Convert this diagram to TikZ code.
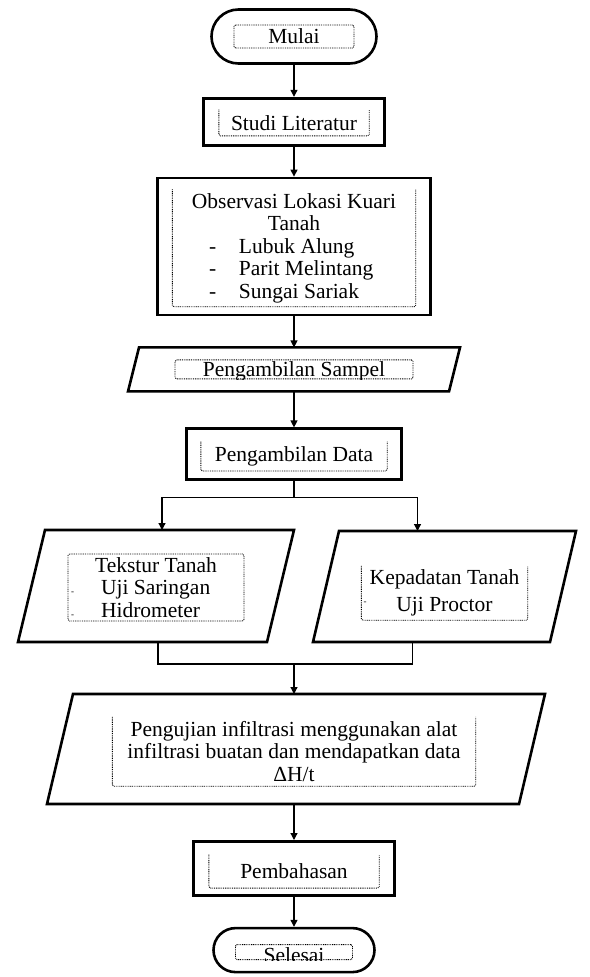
\documentclass[tikz,border=0pt]{standalone}
\usepackage{fontspec}
\setmainfont{Liberation Serif}
\usetikzlibrary{arrows.meta,positioning,shapes.misc}

\newcommand{\dashitem}[2][]{\makebox[170pt][l]{\makebox[30pt][l]{#1-}#2}}

\begin{document}
\begin{tikzpicture}[
  x=1pt, y=1pt,
  font=\fontsize{21.5}{22.5}\selectfont,
  node distance=30pt,
  term/.style={rounded rectangle, draw, line width=2.6pt, inner sep=0pt},
  proc/.style={rectangle, draw, line width=2.8pt, inner sep=0pt},
  io/.style={rectangle, inner sep=0pt, outer sep=0pt},
  outline/.style={line width=2.6pt, line join=miter},
  inbox/.style={rectangle, inner sep=0pt, align=center},
  dots/.style={line width=0.9pt, dash pattern=on 0.9pt off 0.9pt, rounded corners=1.5pt},
  dotbox/.style={inbox, draw, dots},
  arr/.style={-{Triangle[length=7pt,width=7pt]}, line width=1.2pt},
  conn/.style={line width=1.2pt}
]
\useasboundingbox (0,0) rectangle (589,-977);

% outer shapes
\node[term, minimum width=165, minimum height=54] (mulai) at (294,-36.5) {};
\node[proc, minimum width=181, minimum height=47, below=32pt of mulai] (studi) {};
\node[proc, minimum width=273, minimum height=137, below=30pt of studi] (obs) {};
\node[io, minimum width=332, minimum height=44, below=31pt of obs] (sampel) {};
\node[proc, minimum width=215, minimum height=51, below=36pt of sampel] (data) {};
\node[io, minimum width=276, minimum height=112] (tekstur) at (156,-586) {};
\node[io, minimum width=263, minimum height=111] (padat) at (444.5,-586.5) {};
\node[io, minimum width=498, minimum height=110] (uji) at (296,-749) {};
\node[proc, minimum width=201, minimum height=54, below=36pt of uji, xshift=-2] (bahas) {};
\node[term, minimum width=161, minimum height=44, below=30pt of bahas] (selesai) {};

% slanted sides of the data shapes
\foreach \n/\s in {sampel/11,tekstur/27,padat/26,uji/26}
  \draw[outline] ([xshift=\s]\n.north west) -- (\n.north east)
    -- ([xshift=-\s]\n.south east) -- (\n.south west) -- cycle;

% dotted text frames
\node[dotbox, minimum width=120, minimum height=23] (mulaiT) at (mulai.center) {Mulai};
\node[inbox, minimum width=150, minimum height=26, yshift=-1] (studiT) at (studi.center) {Studi Literatur};
\node[inbox, minimum width=243, minimum height=117, yshift=-1.5] (obsT) at (obs.center)
  {Observasi Lokasi Kuari\\Tanah\\\dashitem{Lubuk Alung}\\\dashitem{Parit Melintang}\\\dashitem{Sungai Sariak}};
\node[dotbox, minimum width=238, minimum height=19] (sampelT) at (sampel.center) {};
\begin{scope}
  \clip (sampelT.south west) rectangle (sampelT.north east);
  \node[anchor=base, inner sep=0pt] (sampelL) at ([yshift=2.5]sampelT.south) {Pengambilan Sampel};
\end{scope}
\node[inbox, minimum width=186, minimum height=29, yshift=-2] (dataT) at (data.center) {Pengambilan Data};
\node[dotbox, minimum width=176, minimum height=67, yshift=-1.5] (teksturT) at (tekstur.center)
  {Tekstur Tanah\\\dashitem[\small]{Uji Saringan}\\\dashitem[\small]{Hidrometer}};
\node[inbox, minimum width=166, minimum height=54, yshift=-6.5] (padatT) at (padat.center)
  {Kepadatan Tanah\\[4.5pt]Uji Proctor};
\node[font=\small, inner sep=0pt, anchor=west] (padatD) at ([xshift=2,yshift=-10]padatT.west) {-};
\node[inbox, minimum width=363, minimum height=69, yshift=-2.5] (ujiT) at ([xshift=-2]uji.center)
  {Pengujian infiltrasi menggunakan alat\\infiltrasi buatan dan mendapatkan data\\ΔH/t};
\node[inbox, minimum width=170, minimum height=33, yshift=-3] (bahasT) at (bahas.center) {Pembahasan};
\node[dotbox, minimum width=117, minimum height=15, yshift=-2] (selesaiT) at (selesai.center) {};
\begin{scope}
  \clip (selesaiT.south west) rectangle (selesaiT.north east);
  \node[anchor=base, inner sep=0pt] (selesaiL) at ([yshift=-2]selesaiT.south) {Selesai};
\end{scope}

% frames open at the top
\foreach \n in {studiT,obsT,dataT,padatT,ujiT,bahasT}
  \draw[dots] (\n.north west) -- (\n.south west) -- (\n.south east) -- (\n.north east);

% connectors
\draw[arr] (mulai) -- (studi);
\draw[arr] (studi) -- (obs);
\draw[arr] (obs) -- (sampel);
\draw[arr] (sampel) -- (data);

\coordinate (split) at ([yshift=-16]data.south);
\draw[conn] (data.south) -- (split);
\draw[arr] (split) -| ([xshift=6]tekstur.north);
\draw[arr] (split) -| ([xshift=-27]padat.north);

\coordinate (merge) at ([xshift=-2,yshift=30]uji.north);
\draw[conn] ([xshift=2]tekstur.south) |- (merge) -| ([xshift=-32]padat.south);
\draw[arr] (merge) -- (merge |- uji.north);

\draw[arr] (uji.south -| bahas.north) -- (bahas);
\draw[arr] (bahas) -- (selesai);
\end{tikzpicture}
\end{document}
